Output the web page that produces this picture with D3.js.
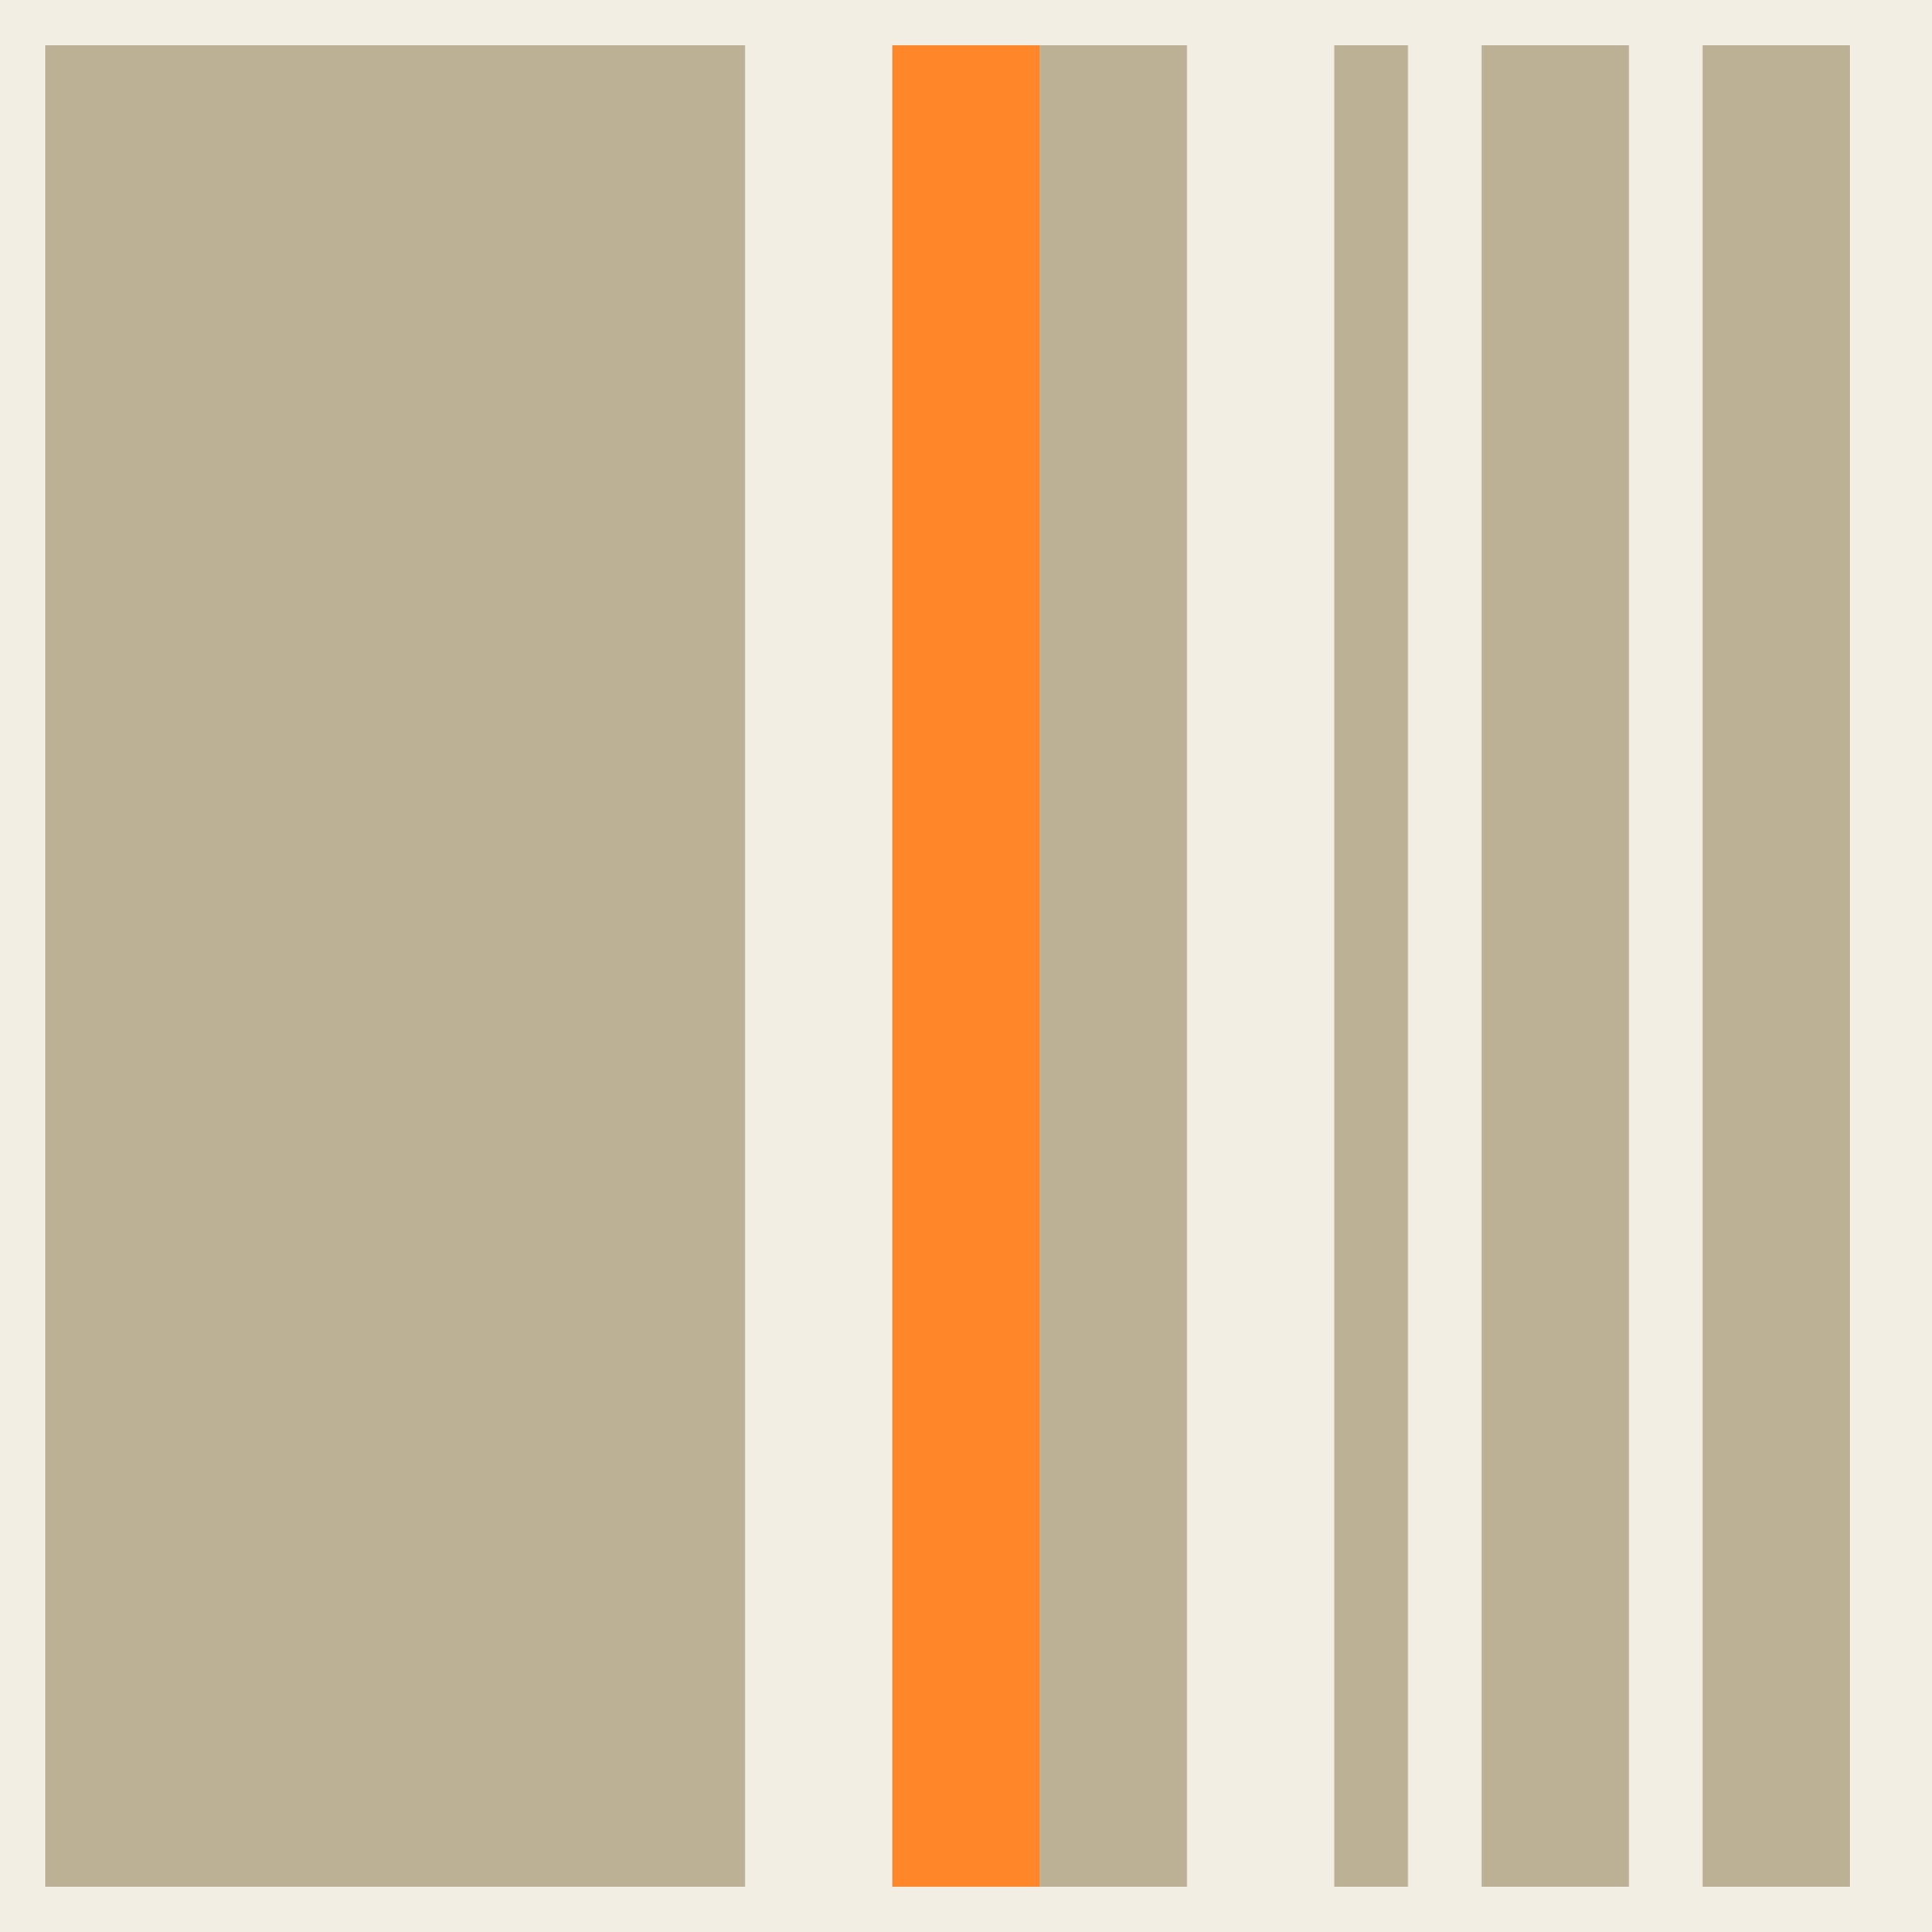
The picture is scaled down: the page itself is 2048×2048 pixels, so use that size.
<!DOCTYPE html>
<html>
<head>
<meta charset="utf-8">
<script src="https://cdn.jsdelivr.net/npm/d3@7"></script>
<style>
  html, body { margin: 0; padding: 0; background: #f2eee3; }
</style>
</head>
<body>
<div id="chart"></div>
<script>
// segment extents along the strip (in units) and which one is highlighted
const segmentStarts = [0.5, 12, 14, 18, 20, 23];
const segmentEnds = [10, 14, 16, 19, 22, 25];
const highlighted = [false, true, false, false, false, false];

const width = 2048;
const height = 2048;
const margin = 48;

const segments = segmentStarts.map((s, i) => ({
  start: s,
  end: segmentEnds[i],
  highlight: highlighted[i]
}));

const x = d3.scaleLinear()
  .domain([0.5, 25.5])
  .range([margin, width - margin]);

const svg = d3.select('#chart')
  .append('svg')
  .attr('width', width)
  .attr('height', height)
  .style('display', 'block');

svg.append('rect')
  .attr('width', width)
  .attr('height', height)
  .attr('fill', '#f2eee3');

svg.append('g')
  .selectAll('rect')
  .data(segments)
  .enter()
  .append('rect')
  .attr('x', d => x(d.start))
  .attr('width', d => x(d.end) - x(d.start))
  .attr('y', margin)
  .attr('height', height - 2 * margin)
  .attr('fill', d => d.highlight ? '#ff8629' : '#bcb095');
</script>
</body>
</html>
